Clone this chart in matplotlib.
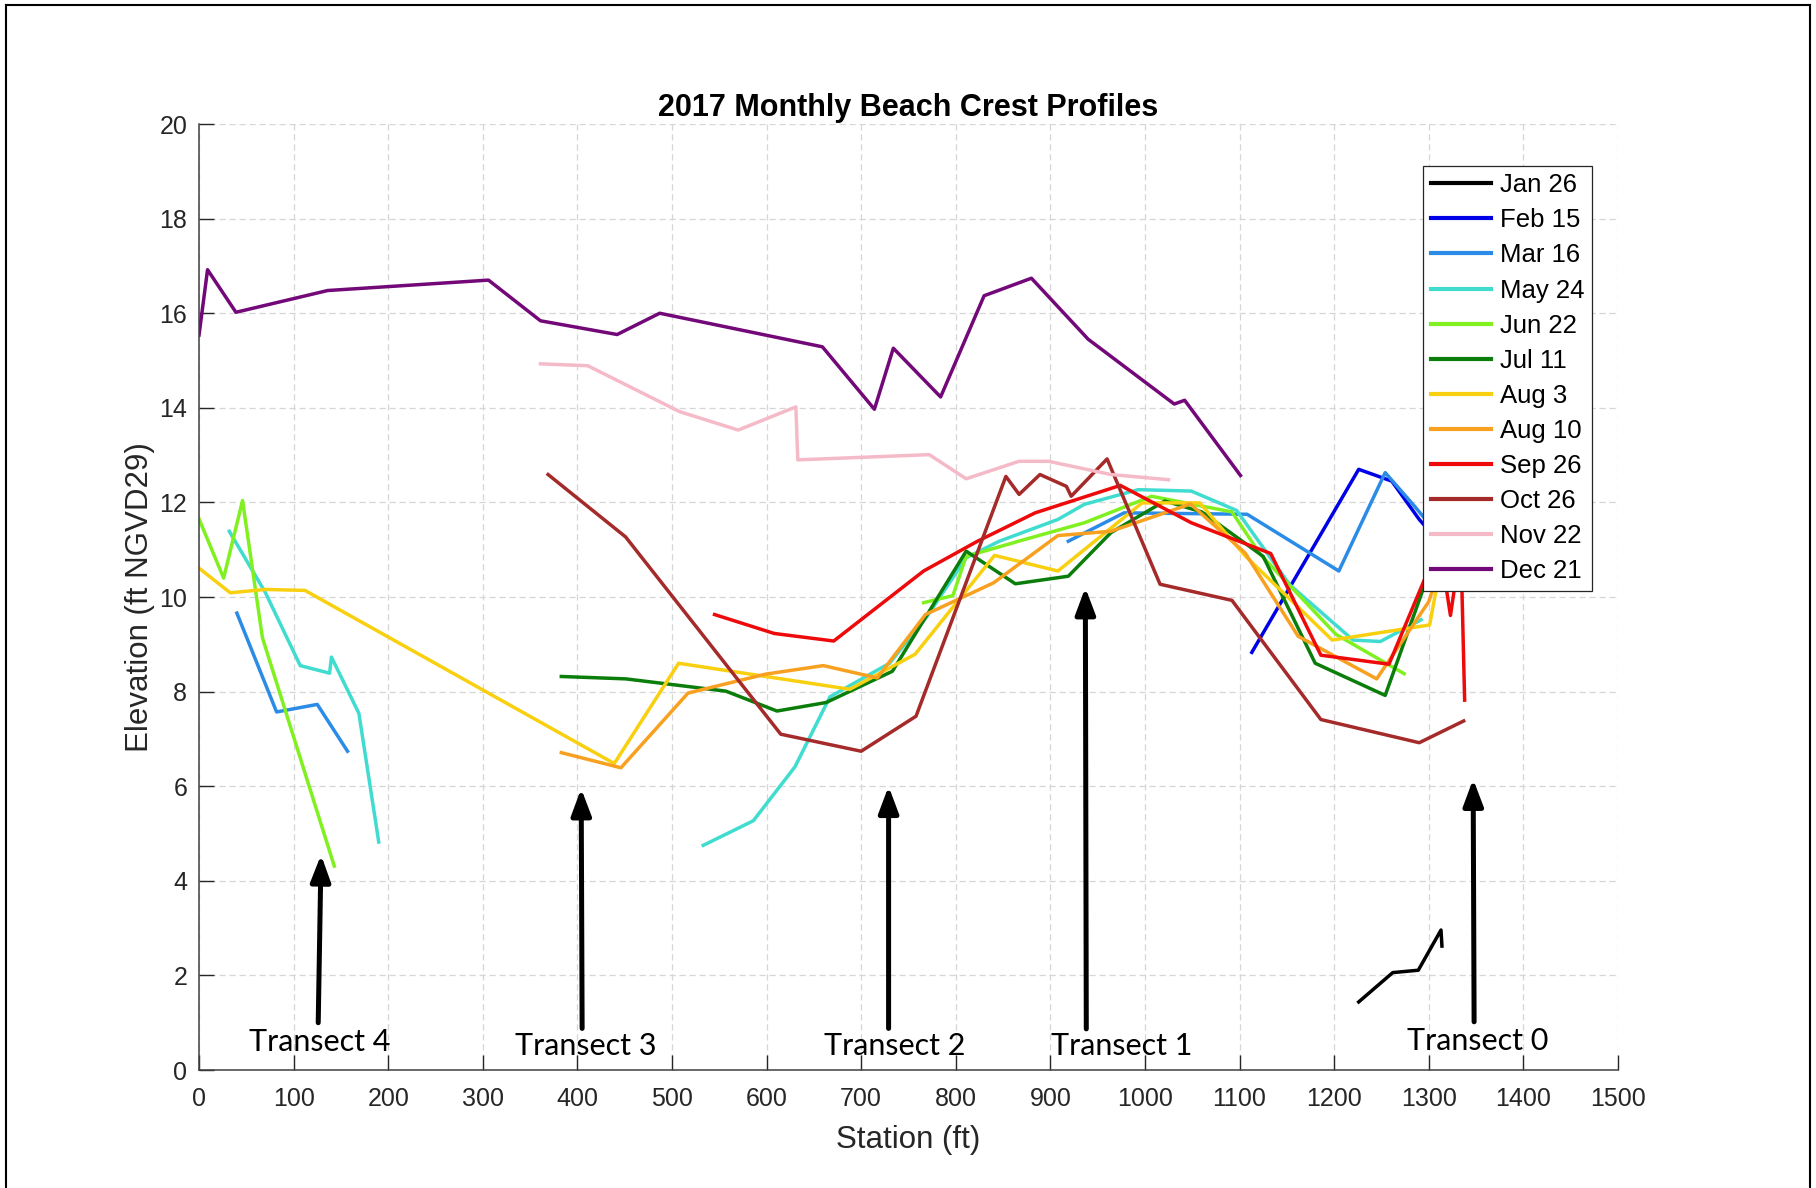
import numpy as np
import matplotlib
matplotlib.use("Agg")
import matplotlib.pyplot as plt
from matplotlib.lines import Line2D

plt.rcParams["font.family"] = ["Liberation Sans", "DejaVu Sans"]

nan = np.nan

# survey dates and their crest profiles (station ft, elevation ft NGVD29); nan splits a survey into pieces
labels = ["Jan 26", "Feb 15", "Mar 16", "May 24", "Jun 22", "Jul 11",
          "Aug 3", "Aug 10", "Sep 26", "Oct 26", "Nov 22", "Dec 21"]
colors = ["#000000", "#0000e6", "#2b8ce8", "#40dcd0", "#80f020", "#0a7d0a",
          "#f8d010", "#f8a020", "#ee0a0a", "#a52a2a", "#f5bac8", "#730878"]

jan_x = [1226, 1262, 1289, 1313, 1314]
jan_y = [1.44, 2.06, 2.11, 2.96, 2.62]

feb_x = [1113, 1226, 1261, 1290, 1318]
feb_y = [8.83, 12.70, 12.45, 11.64, 11.0]

mar_x = [40, 82, 125, 157, nan, 919, 978, 1108, 1205, 1254, 1285, 1315]
mar_y = [9.66, 7.57, 7.73, 6.74, nan, 11.18, 11.78, 11.75, 10.55, 12.63, 11.92, 11.2]

may_x = [32, 70, 107, 138, 140, 169, 190, nan,
         533, 586, 630, 667, 730, 770, 811, 846, 908, 936, 993, 1049, 1097, 1153, 1220, 1249, 1292]
may_y = [11.39, 10.10, 8.55, 8.39, 8.73, 7.54, 4.82, nan,
         4.75, 5.27, 6.41, 7.89, 8.6, 9.6, 10.83, 11.18, 11.64, 11.96, 12.27, 12.24, 11.83, 10.26, 9.09, 9.06, 9.52]

jun_x = [0, 26, 46, 67, 143, nan, 766, 797, 811, 870, 936, 1007, 1092, 1122, 1202, 1274]
jun_y = [11.65, 10.40, 12.04, 9.14, 4.31, nan, 9.88, 10.03, 10.86, 11.2, 11.57, 12.13, 11.80, 10.9, 9.21, 8.38]

jul_x = [383, 451, 557, 611, 663, 733, 811, 863, 919, 964, 1021, 1060, 1125, 1180, 1254, 1294, 1310]
jul_y = [8.32, 8.27, 8.01, 7.59, 7.77, 8.43, 10.97, 10.28, 10.44, 11.36, 12.03, 11.8, 10.86, 8.6, 7.92, 10.16, 11.0]

aug3_x = [0, 33, 70, 112, 439, 507, 688, 757, 841, 908, 997, 1058, 1106, 1198, 1301, 1312]
aug3_y = [10.61, 10.09, 10.16, 10.14, 6.48, 8.60, 8.05, 8.79, 10.88, 10.55, 11.99, 11.99, 10.87, 9.09, 9.41, 10.6]

aug10_x = [383, 446, 517, 599, 660, 717, 768, 840, 908, 964, 1040, 1048, 1106, 1162, 1245, 1300, 1315]
aug10_y = [6.71, 6.39, 7.97, 8.37, 8.55, 8.29, 9.63, 10.3, 11.3, 11.39, 11.91, 11.97, 10.93, 9.17, 8.27, 9.9, 10.8]

sep_x = [545, 608, 671, 766, 823, 884, 974, 1049, 1133, 1186, 1258, 1297, 1310, 1323, 1334, 1338]
sep_y = [9.63, 9.23, 9.07, 10.55, 11.18, 11.78, 12.36, 11.57, 10.92, 8.77, 8.58, 10.44, 11.3, 9.61, 11.1, 7.82]

oct_x = [369, 451, 615, 700, 758, 853, 867, 889, 917, 922, 960, 1016, 1092, 1186, 1290, 1337]
oct_y = [12.59, 11.27, 7.10, 6.74, 7.48, 12.55, 12.17, 12.59, 12.34, 12.13, 12.92, 10.27, 9.93, 7.41, 6.92, 7.38]

nov_x = [361, 411, 508, 570, 631, 633, 772, 811, 867, 898, 964, 1025]
nov_y = [14.93, 14.89, 13.92, 13.53, 14.02, 12.90, 13.01, 12.50, 12.87, 12.87, 12.59, 12.48]

dec_x = [0, 9, 39, 136, 306, 361, 442, 487, 659, 714, 734, 784, 830, 880, 940, 1031, 1042, 1101]
dec_y = [15.54, 16.92, 16.02, 16.48, 16.70, 15.84, 15.55, 16.00, 15.29, 13.97, 15.26, 14.23,
         16.37, 16.74, 15.45, 14.08, 14.16, 12.57]

profiles_x = [jan_x, feb_x, mar_x, may_x, jun_x, jul_x, aug3_x, aug10_x, sep_x, oct_x, nov_x, dec_x]
profiles_y = [jan_y, feb_y, mar_y, may_y, jun_y, jul_y, aug3_y, aug10_y, sep_y, oct_y, nov_y, dec_y]

# transect markers: name, arrow base / tip (station, elevation), label position
transect_names = ["Transect 4", "Transect 3", "Transect 2", "Transect 1", "Transect 0"]
transect_base = [(126, 1.0), (405, 0.88), (729, 0.88), (938, 0.87), (1348, 1.02)]
transect_tip = [(129, 4.55), (404, 5.95), (729, 6.0), (937, 10.2), (1347, 6.15)]
transect_text = [(128, 0.6), (409, 0.5), (735, 0.5), (975, 0.5), (1352, 0.62)]

fig = plt.figure(figsize=(18.16, 11.88), dpi=100)
ax = fig.add_axes([0.1096, 0.0993, 0.7813, 0.7963])

for x, y, c, lab in zip(profiles_x, profiles_y, colors, labels):
    ax.plot(x, y, color=c, lw=2.5, label=lab)

ax.set_xlim(0, 1500)
ax.set_ylim(0, 20)
ax.set_xticks(np.arange(0, 1501, 100))
ax.set_yticks(np.arange(0, 21, 2))
ax.grid(True, color="#d6d6d6", linestyle=(0, (5, 3)), lw=0.9)
ax.set_axisbelow(True)
for side in ("top", "right"):
    ax.spines[side].set_visible(False)
for side in ("left", "bottom"):
    ax.spines[side].set_color("#404040")
    ax.spines[side].set_linewidth(1.1)
ax.tick_params(direction="in", length=10.5, width=1.0, colors="#262626", labelsize=18)
ax.tick_params(axis="x", pad=12)
ax.tick_params(axis="y", pad=8.5)

ax.set_xlabel("Station (ft)", fontsize=22.5, color="#262626", labelpad=10)
ax.set_ylabel("Elevation (ft NGVD29)", fontsize=22.5, color="#262626", labelpad=3)
ax.set_title("2017 Monthly Beach Crest Profiles", fontsize=22, fontweight="bold", pad=6)

leg = ax.legend(loc="upper right", bbox_to_anchor=(0.982, 0.956), fontsize=18.5,
                frameon=True, fancybox=False, edgecolor="#262626", framealpha=1,
                handlelength=2.35, handletextpad=0.35, labelspacing=0.43, borderpad=0.3,
                borderaxespad=0)
leg.get_frame().set_linewidth(0.9)
for h in leg.get_lines():
    h.set_linewidth(3.0)

for name, base, tip, pos in zip(transect_names, transect_base, transect_tip, transect_text):
    ax.annotate("", xy=tip, xytext=base,
                arrowprops=dict(arrowstyle="-|>,head_length=1.6,head_width=0.6",
                                lw=3.6, color="black", shrinkA=0, shrinkB=0))
    ax.text(pos[0], pos[1], name, ha="center", va="center", fontsize=22,
            family=["Lato", "DejaVu Sans"], color="black")

# outer frame around the figure
frame_kw = dict(color="black", lw=1.5, transform=fig.transFigure)
fig.add_artist(Line2D([0.0035, 0.0035], [0.0, 0.9955], **frame_kw))
fig.add_artist(Line2D([0.0035, 0.9965], [0.9955, 0.9955], **frame_kw))
fig.add_artist(Line2D([0.9965, 0.9965], [0.0, 0.9955], **frame_kw))

fig.savefig("out.png", dpi=100, facecolor="white")
